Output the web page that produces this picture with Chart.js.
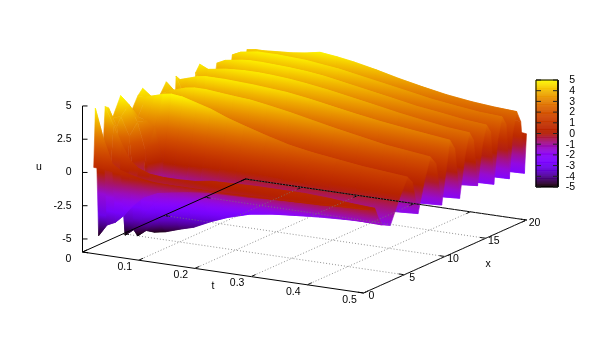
<!DOCTYPE html>
<html>
<head>
<meta charset="utf-8">
<title>u(t,x)</title>
<script src="https://cdn.jsdelivr.net/npm/chart.js@4"></script>
<style>
  html, body { margin: 0; padding: 0; background: #fff; }
  canvas { display: block; }
</style>
</head>
<body>
<canvas id="chart" width="610" height="341"></canvas>
<script>
const tValues = [.02, .035, .05, .065, .08, .1, .125, .15, .18, .21, .25, .29, .33, .375, .42, .46, .5];
const xValues = [0, .2, .6, 1.4, 1.8, 2.3, 3.3, 4.4, 5.4, 6, 6.7, 7.5, 8.2, 8.9, 9.6, 10.1, 10.6, 11.2, 11.8, 12.5, 13, 13.5, 14, 14.6, 15.1, 15.6, 16, 16.5, 17, 17.5, 17.9, 18.3, 18.8, 19.3, 19.75, 20];
// one row of u per x value
const uRows = [
  [.5, .5, .4, .3, .2, .1, 0, 0, 0, 0, 0, .05, .1, .15, .2, .3, .3],
  [4.9, 2.6, .9, .5, .3, .1, -.05, -.1, -.1, -.1, -.1, -.05, 0, .05, .1, .2, .25],
  [-4.8, -3.9, -3.6, -3, -2.2, -1.4, -.9, -.7, -.5, -.35, -.3, -.25, -.15, -.05, 0, .1, .15],
  [4.7, 3.4, 2, .9, .4, .1, 0, 0, .05, .25, .3, .35, .35, .35, .25, .1, 0],
  [4.5, 3.2, -4.9, -4.4, -3.4, -2.2, -1.5, -1.1, -.8, -.7, -.6, -.6, -.6, -.6, -.65, -.7, -.8],
  [3.6, 3.8, 2.4, -5, -4.5, -3.6, -2.6, -1.9, -1.6, -1.5, -1.4, -1.35, -1.35, -1.35, -1.4, -1.45, -1.5],
  [5, 4.4, 3.2, 1, -4.9, -4.75, -4.4, -4.1, -3.5, -3, -2.5, -2.25, -2.1, -1.95, -1.85, -1.8, -1.8],
  [3.2, 3.2, 3, 2.6, 0, 0, 0, .05, .1, .15, .15, .05, 0, -.05, -.1, -.1, -.1],
  [4.4, 4.4, 4.6, 4.8, 4.9, 4.8, 4.5, 4.2, 3.7, 3.3, 2.8, 2.35, 2.05, 1.8, 1.55, 1.4, 1.25],
  [4.8, 4.3, 4.4, 4.4, 4.4, 4.3, 4, 3.7, 3.2, 2.9, 2.4, 2, 1.7, 1.4, 1.05, .85, .7],
  [-5, -5, -5, -4.9, -4.8, -4.6, -4.4, -4.1, -3.7, -3.4, -3, -2.75, -2.5, -2.3, -2.1, -1.95, -1.85],
  [.3, .5, .7, .9, .9, .95, .9, .95, 1, 1, .9, .8, .75, .65, .6, .5, .45],
  [3.8, 4.1, 4.3, 4.5, 4.6, 4.6, 4.5, 4.4, 4.3, 4.1, 3.8, 3.45, 3.1, 2.75, 2.4, 2.2, 2],
  [4.5, 3.9, 4, 4, 4, 4, 3.9, 3.8, 3.6, 3.4, 3.1, 2.8, 2.5, 2.2, 1.85, 1.6, 1.3],
  [-5, -5, -5, -4.9, -4.8, -4.6, -4.4, -4.1, -3.7, -3.4, -3, -2.75, -2.55, -2.4, -2.25, -2.1, -2],
  [4.6, 3.2, 2, 1, -.1, 0, .1, .2, .3, .35, .4, .4, .4, .35, .3, .3, .3],
  [4.2, 4.4, 4.6, 4.7, 4.7, 4.7, 4.65, 4.6, 4.5, 4.4, 4.15, 3.85, 3.55, 3.25, 3, 2.8, 2.6],
  [3.9, 3.8, 3.9, 4, 4, 4, 3.95, 3.85, 3.7, 3.5, 3.25, 3, 2.8, 2.55, 2.3, 2.05, 1.8],
  [-5, -5, -5, -4.9, -4.8, -4.6, -4.4, -4.1, -3.7, -3.4, -3, -2.8, -2.6, -2.45, -2.3, -2.2, -2.1],
  [4.2, 3, 2, 1.7, 1.6, 1.55, 1.75, 1.85, 1.85, 1.8, 1.75, 1.65, 1.55, 1.4, 1.3, 1.2, 1.1],
  [4.7, 4.4, 4.5, 4.6, 4.65, 4.7, 4.7, 4.65, 4.55, 4.4, 4.15, 3.85, 3.55, 3.2, 2.9, 2.65, 2.5],
  [3.5, 3.5, 3.6, 3.7, 3.7, 3.8, 3.8, 3.75, 3.65, 3.45, 3.2, 3, 2.8, 2.55, 2.3, 2.05, 1.8],
  [-5, -5, -5, -4.9, -4.8, -4.6, -4.4, -4.1, -3.7, -3.4, -3, -2.75, -2.5, -2.3, -2.1, -1.9, -1.75],
  [2, 2, 2, 2, 1.7, 1.75, 1.8, 1.85, 1.85, 1.8, 1.75, 1.6, 1.5, 1.4, 1.3, 1.25, 1.2],
  [4.2, 4.5, 4.6, 4.7, 4.75, 4.75, 4.7, 4.65, 4.55, 4.4, 4.1, 3.8, 3.5, 3.15, 2.9, 2.65, 2.5],
  [3.9, 3.7, 3.7, 3.8, 3.85, 3.85, 3.8, 3.75, 3.6, 3.45, 3.2, 2.95, 2.7, 2.45, 2.25, 2.05, 1.85],
  [-5, -5, -5, -4.9, -4.8, -4.6, -4.4, -4.1, -3.7, -3.4, -3, -2.75, -2.55, -2.4, -2.3, -2.25, -2.2],
  [1.8, 1.8, 1.8, 1.85, 1.85, 1.85, 1.85, 1.85, 1.85, 1.8, 1.7, 1.6, 1.5, 1.35, 1.25, 1.2, 1.1],
  [4.3, 4.6, 4.7, 4.8, 4.8, 4.8, 4.75, 4.7, 4.55, 4.4, 4.1, 3.8, 3.5, 3.15, 2.9, 2.7, 2.6],
  [3.9, 3.8, 3.8, 3.85, 3.9, 3.9, 3.9, 3.85, 3.7, 3.5, 3.25, 3, 2.75, 2.5, 2.3, 2.1, 1.9],
  [-5, -5, -5, -4.9, -4.8, -4.6, -4.4, -4.1, -3.7, -3.4, -3, -2.8, -2.65, -2.5, -2.4, -2.35, -2.3],
  [1.9, 1.9, 1.9, 1.9, 1.9, 1.95, 2, 2, 1.95, 1.85, 1.75, 1.6, 1.45, 1.3, 1.15, 1.05, 1],
  [4.2, 4.3, 4.3, 4.35, 4.4, 4.45, 4.6, 4.8, 4.65, 4.45, 4.1, 3.7, 3.35, 3, 2.75, 2.6, 2.5],
  [3.6, 3.6, 3.7, 3.8, 3.9, 3.95, 4, 4, 3.9, 3.7, 3.4, 3.05, 2.75, 2.45, 2.15, 1.85, 1.6],
  [-5, -5, -5, -4.9, -4.8, -4.6, -4.4, -4.1, -3.7, -3.4, -3, -2.85, -2.7, -2.6, -2.5, -2.45, -2.4],
  [3, 3, 3, 3, 3, 3, 2.9, 2.8, 2.6, 2.4, 2.1, 1.8, 1.5, 1.2, .95, .7, .5]
];

const tTicks = [0, .1, .2, .3, .4, .5];
const xTicks = [0, 5, 10, 15, 20];
const uTicks = [5, 2.5, 0, -2.5, -5];
const cbTicks = [5, 4, 3, 2, 1, 0, -1, -2, -3, -4, -5];

// view of the box on the page
const origin = { x: 82.5, y: 252 };
const tStep = { x: 281 / .5, y: 41 / .5 };
const xStep = { x: 163 / 20, y: -73 / 20 };
const uStep = -13.3;
const uBase = -5.98;

function project(t, x, u) {
    return {
        x: origin.x + t * tStep.x + x * xStep.x,
        y: origin.y + t * tStep.y + x * xStep.y + (u - uBase) * uStep
    };
}

// pm3d palette, rgbformulae 7,5,15 over -5..5
function palette(u) {
    const g = Math.min(1, Math.max(0, (u + 5) / 10));
    const r = Math.sqrt(g);
    const gr = g * g * g;
    const b = Math.max(0, Math.sin(2 * Math.PI * g));
    return `rgb(${Math.round(r * 255)},${Math.round(gr * 255)},${Math.round(b * 255)})`;
}

// plane through the four corners, u against page position
function fitGradient(p, c) {
    const mx = (p[0].x + p[1].x + p[2].x + p[3].x) / 4;
    const my = (p[0].y + p[1].y + p[2].y + p[3].y) / 4;
    const mu = (c[0] + c[1] + c[2] + c[3]) / 4;
    let sxx = 0, sxy = 0, syy = 0, sxu = 0, syu = 0;
    for (let k = 0; k < 4; k++) {
        const dx = p[k].x - mx, dy = p[k].y - my, du = c[k] - mu;
        sxx += dx * dx; sxy += dx * dy; syy += dy * dy;
        sxu += dx * du; syu += dy * du;
    }
    const det = sxx * syy - sxy * sxy;
    const ua = Math.min(...c), ub = Math.max(...c);
    if (Math.abs(det) < 1e-3 || ub - ua < 1e-3) return { flat: palette(mu) };
    const a = (syy * sxu - sxy * syu) / det;
    const b = (sxx * syu - sxy * sxu) / det;
    const len = a * a + b * b;
    if (len < 1e-7) return { flat: palette(mu) };
    return {
        a: { x: mx + a / len * (ua - mu), y: my + b / len * (ua - mu) },
        b: { x: mx + a / len * (ub - mu), y: my + b / len * (ub - mu) },
        ua: ua,
        ub: ub,
        flat: palette(mu)
    };
}

function gradientFor(context) {
    const g = context.dataset.grad;
    if (!g.a) return g.flat;
    const sc = context.chart.scales;
    const x0 = sc.x.getPixelForValue(g.a.x);
    const y0 = sc.y.getPixelForValue(g.a.y);
    const x1 = sc.x.getPixelForValue(g.b.x);
    const y1 = sc.y.getPixelForValue(g.b.y);
    // scales are not laid out yet on the first resolve
    if (![x0, y0, x1, y1].every(Number.isFinite)) return g.flat;
    const grad = context.chart.ctx.createLinearGradient(x0, y0, x1, y1);
    for (let i = 0; i <= 6; i++) {
        grad.addColorStop(i / 6, palette(g.ua + (g.ub - g.ua) * i / 6));
    }
    return grad;
}

function line(points, color, width, dash) {
    return {
        data: points,
        showLine: true,
        borderColor: color,
        borderWidth: width,
        borderDash: dash || [],
        backgroundColor: 'transparent',
        fill: false,
        pointRadius: 0,
        tension: 0
    };
}

// first dataset ends up on top
const datasets = [];

// grid, ticks and borders lie over the surface
tTicks.slice(1).forEach(function(t) {
    datasets.push(line([project(t, 0, uBase), project(t, 20, uBase)], '#777', 0.8, [1, 2]));
});
xTicks.slice(1).forEach(function(x) {
    datasets.push(line([project(.5, x, uBase), project(0, x, uBase)], '#777', 0.8, [1, 2]));
});
tTicks.forEach(function(t) {
    datasets.push(line([project(t, 0, uBase), project(t, .55, uBase)], '#000', 1));
    datasets.push(line([project(t, 20, uBase), project(t, 19.45, uBase)], '#000', 1));
});
xTicks.forEach(function(x) {
    datasets.push(line([project(.5, x, uBase), project(.49, x, uBase)], '#000', 1));
    datasets.push(line([project(0, x, uBase), project(.01, x, uBase)], '#000', 1));
});
datasets.push(line([project(0, 0, uBase), project(.5, 0, uBase), project(.5, 20, uBase), project(0, 20, uBase), project(0, 0, uBase)], '#000', 1));
datasets.push(line([project(0, 0, uBase), project(0, 0, 5)], '#000', 1));
uTicks.forEach(function(u) {
    const p = project(0, 0, u);
    datasets.push(line([p, { x: p.x + 5, y: p.y }], '#000', 1));
});

// colour box
const cbBox = { left: 536, right: 558, top: 80, bottom: 187 };
const cbY = (u) => cbBox.bottom - (u + 5) / 10 * (cbBox.bottom - cbBox.top);
cbTicks.forEach(function(u) {
    datasets.push(line([{ x: cbBox.left, y: cbY(u) }, { x: cbBox.left + 5, y: cbY(u) }], '#222', 1));
    datasets.push(line([{ x: cbBox.right - 5, y: cbY(u) }, { x: cbBox.right, y: cbY(u) }], '#222', 1));
});
datasets.push(line([
    { x: cbBox.left, y: cbBox.top }, { x: cbBox.right, y: cbBox.top },
    { x: cbBox.right, y: cbBox.bottom }, { x: cbBox.left, y: cbBox.bottom },
    { x: cbBox.left, y: cbBox.top }
], '#000', 1));
for (let i = 0; i < 120; i++) {
    const u0 = -5 + i / 12;
    const u1 = -5 + (i + 1) / 12;
    datasets.push({
        data: [
            { x: cbBox.left, y: cbY(u0) }, { x: cbBox.right, y: cbY(u0) },
            { x: cbBox.right, y: cbY(u1) }, { x: cbBox.left, y: cbY(u1) },
            { x: cbBox.left, y: cbY(u0) }
        ],
        showLine: true,
        fill: 'shape',
        backgroundColor: palette((u0 + u1) / 2),
        borderColor: palette((u0 + u1) / 2),
        borderWidth: 0.5,
        pointRadius: 0,
        tension: 0
    });
}

// surface, nearest cells first
for (let j = 0; j < xValues.length - 1; j++) {
    for (let i = tValues.length - 2; i >= 0; i--) {
        const c = [uRows[j][i], uRows[j][i + 1], uRows[j + 1][i + 1], uRows[j + 1][i]];
        const p = [
            project(tValues[i], xValues[j], c[0]),
            project(tValues[i + 1], xValues[j], c[1]),
            project(tValues[i + 1], xValues[j + 1], c[2]),
            project(tValues[i], xValues[j + 1], c[3])
        ];
        datasets.push({
            data: [p[0], p[1], p[2], p[3], p[0]],
            grad: fitGradient(p, c),
            showLine: true,
            fill: 'shape',
            backgroundColor: gradientFor,
            borderColor: gradientFor,
            borderWidth: 0.6,
            pointRadius: 0,
            tension: 0
        });
    }
}

// tick labels and axis titles
const labelsPlugin = {
    id: 'labels',
    afterDraw: function(chart) {
        const ctx = chart.ctx;
        const sc = chart.scales;
        const put = function(text, px, py, align) {
            ctx.textAlign = align || 'center';
            ctx.fillText(text, sc.x.getPixelForValue(px), sc.y.getPixelForValue(py));
        };
        ctx.save();
        ctx.font = '10.5px "Liberation Sans", Arial, sans-serif';
        ctx.fillStyle = '#000';
        ctx.textBaseline = 'middle';
        uTicks.forEach(function(u) {
            const p = project(0, 0, u);
            put(String(u), p.x - 11, p.y, 'right');
        });
        tTicks.forEach(function(t) {
            const p = project(t, 0, uBase);
            put(String(t), p.x - 14, p.y + 7);
        });
        xTicks.forEach(function(x) {
            const p = project(.5, x, uBase);
            put(String(x), p.x + 8, p.y + 3);
        });
        cbTicks.forEach(function(u) {
            put(String(u), 575, cbY(u) + .5, 'right');
        });
        put('u', 39, 167);
        put('t', 213, 286);
        put('x', 488, 264);
        ctx.restore();
    }
};

new Chart(document.getElementById('chart').getContext('2d'), {
    type: 'scatter',
    data: { datasets: datasets },
    plugins: [labelsPlugin],
    options: {
        responsive: false,
        animation: false,
        events: [],
        layout: { padding: 0 },
        scales: {
            x: { type: 'linear', min: 0, max: 610, display: false },
            y: { type: 'linear', min: 0, max: 341, reverse: true, display: false }
        },
        plugins: {
            legend: { display: false },
            tooltip: { enabled: false },
            filler: { propagate: false }
        }
    }
});
</script>
</body>
</html>
